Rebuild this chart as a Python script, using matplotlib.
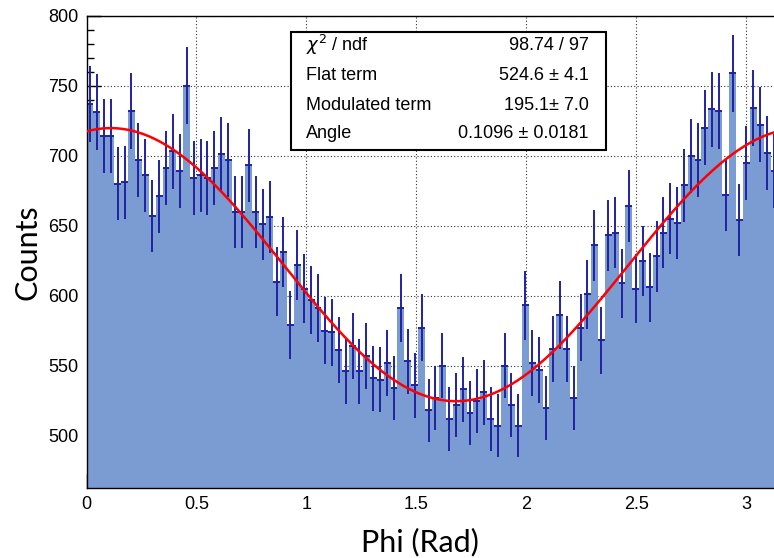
import numpy as np
import matplotlib
matplotlib.use("Agg")
import matplotlib.pyplot as plt
from matplotlib.ticker import MultipleLocator

# bin contents, 100 bins from 0 to pi
counts = [737, 731, 714, 714, 680, 681, 732, 697, 686, 657,
          671, 691, 703, 689, 750, 684, 686, 684, 691, 701,
          697, 660, 660, 693, 660, 651, 656, 610, 631, 579,
          622, 605, 597, 591, 575, 574, 561, 546, 564, 546,
          557, 541, 540, 552, 534, 591, 553, 536, 577, 518,
          527, 550, 512, 522, 533, 516, 525, 531, 512, 507,
          550, 522, 507, 593, 552, 547, 520, 562, 586, 562,
          527, 577, 601, 636, 568, 643, 645, 609, 664, 605,
          625, 606, 628, 645, 655, 652, 679, 700, 697, 720,
          733, 732, 672, 759, 654, 695, 734, 722, 702, 689]

# fit results shown in the stats box
flat_term = 524.6
modulated_term = 195.1
angle = 0.1096
stat_labels = [r"$\chi^{2}$ / ndf", "Flat term", "Modulated term", "Angle"]
stat_values = ["98.74 / 97", "524.6 \u00b1 4.1", "195.1\u00b1 7.0", "0.1096 \u00b1 0.0181"]

fill_col = "#7b9bd3"
err_col = "#1f22a0"

plt.rcParams['font.family'] = ['Liberation Sans', 'DejaVu Sans']

fig = plt.figure(figsize=(7.74, 5.58), dpi=100)
W, H = 774, 558
ax = fig.add_axes([86.5 / W, 1 - 488 / H, 691 / W, (488 - 15.7) / H])

counts = np.array(counts, dtype=float)
edges = np.linspace(0, np.pi, len(counts) + 1)
centers = 0.5 * (edges[:-1] + edges[1:])
bw = edges[1] - edges[0]

ax.set_axisbelow(True)
ax.grid(True, which='major', color='#333333', linestyle=(0, (1, 2)), linewidth=0.8, zorder=0)
ax.stairs(counts, edges, fill=True, color=fill_col, baseline=0, zorder=1)
ax.errorbar(centers, counts, yerr=np.sqrt(counts), xerr=bw / 2, fmt='none',
            ecolor=err_col, elinewidth=1.4, capsize=0, zorder=2)

phi = np.linspace(0, np.pi, 400)
fit = flat_term + modulated_term * np.cos(phi - angle) ** 2
ax.plot(phi, fit, color='red', linewidth=1.8, zorder=3)

ax.set_xlim(0, np.pi)
ax.xaxis.set_minor_locator(MultipleLocator(0.1))
ax.yaxis.set_minor_locator(MultipleLocator(10))
ax.set_xticks([0, 0.5, 1, 1.5, 2, 2.5, 3])
ax.set_xticklabels(["0", "0.5", "1", "1.5", "2", "2.5", "3"])
ax.tick_params(which='both', direction='in', top=False, right=False, labelsize=13, width=1)
ax.tick_params(which='major', length=10, pad=6)
ax.tick_params(which='minor', length=5)
for s in ax.spines.values():
    s.set_linewidth(1)
yt = [500, 550, 600, 650, 700, 750, 800]
ax.set_yticks(yt)
ax.set_yticklabels([str(v) for v in yt])
ax.set_ylim(462.6, 800)

# axis titles
fig.text(420 / W, 1 - 542 / H, "Phi (Rad)", ha='center', va='center', fontsize=22, family='Lato')
fig.text(28 / W, 1 - 252 / H, "Counts", ha='center', va='center', rotation=90, fontsize=22, family='Lato')

# stats box
bx0, bx1, by0, by1 = 291, 606, 32, 150
box = plt.Rectangle((bx0 / W, 1 - by1 / H), (bx1 - bx0) / W, (by1 - by0) / H,
                    transform=fig.transFigure, facecolor='white', edgecolor='black',
                    linewidth=1.5, zorder=5)
fig.patches.append(box)
rows_y = [45, 76, 106, 134]
for lab, val, yy in zip(stat_labels, stat_values, rows_y):
    fig.text(306 / W, 1 - yy / H, lab, ha='left', va='center', fontsize=13, zorder=6)
    fig.text(589 / W, 1 - yy / H, val, ha='right', va='center', fontsize=13, zorder=6)

fig.savefig("out.png", dpi=100)
